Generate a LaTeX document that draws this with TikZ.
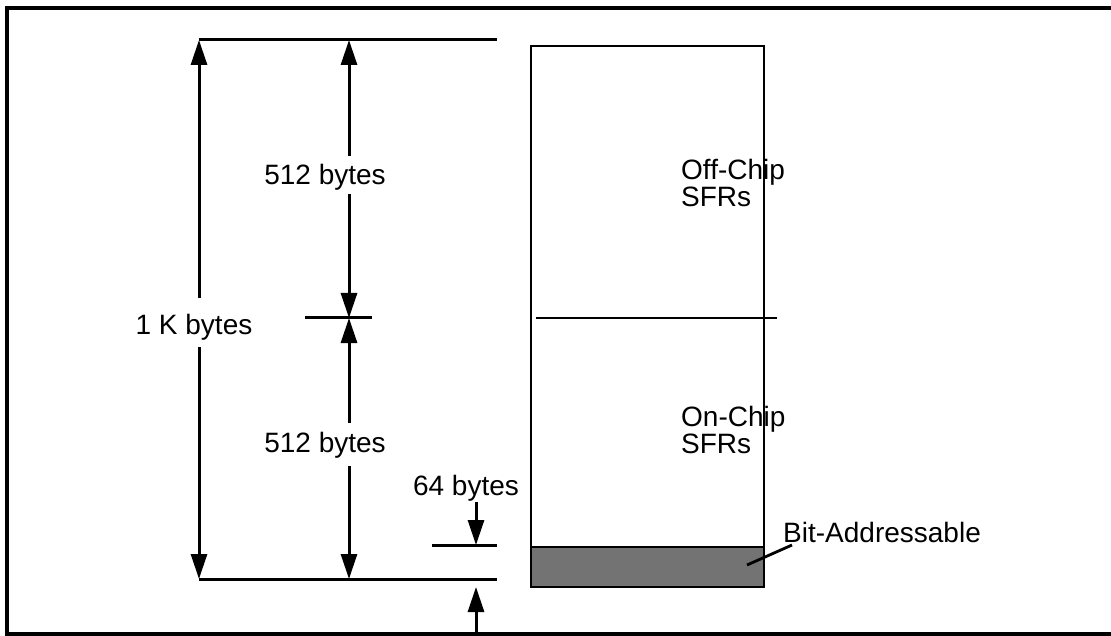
\documentclass[tikz,border=0pt]{standalone}
\usepackage{fontspec}
\setmainfont{Liberation Sans}
\usetikzlibrary{arrows.meta}
\begin{document}
\begin{tikzpicture}[x=1pt,y=-1pt,
  lbl/.style={font=\fontsize{28}{23}\selectfont, inner sep=0pt},
  dim/.style={line width=3pt},
  arr/.style={dim,-{Triangle[length=25pt,width=16pt]}},
  boxline/.style={line width=2.4pt}]
\useasboundingbox (0,0) rectangle (1111,636);
% frame
\draw[line width=3.2pt] (1111,8) -- (7,8) -- (7,634) -- (1111,634);
% reference lines
\coordinate (topL) at (199,40);  \coordinate (topR) at (497,40);
\coordinate (botL) at (199,579); \coordinate (botR) at (497,579);
\coordinate (midA) at (349,40);  \coordinate (midT) at (349,318); \coordinate (midB) at (349,579);
\coordinate (tickL) at (305,318); \coordinate (tickR) at (372,318);
\coordinate (s64L) at (432,545); \coordinate (s64R) at (497,545);
\coordinate (s64T) at (476,545); \coordinate (s64B) at (476,587);
\coordinate (s64F) at (476,634);
\draw[dim] (topL) -- (topR);
\draw[dim] (botL) -- (botR);
\draw[dim] (tickL) -- (tickR);
\draw[dim] (s64L) -- (s64R);
% labels
\node[lbl] (k)  at (194,327) {1 K bytes};
\node[lbl] (ua) at (325,177) {512 bytes};
\node[lbl] (lb) at (325,445) {512 bytes};
\node[lbl] (sf) at (466,488) {64 bytes};
% gap ends
\coordinate (kA) at (199,298); \coordinate (kB) at (199,347);
\coordinate (uA) at (349,156); \coordinate (uB) at (349,194);
\coordinate (lA) at (349,423); \coordinate (lB) at (349,466);
\coordinate (sA) at (476,502);
% arrows
\draw[arr] (kA) -- (topL);
\draw[arr] (kB) -- (botL);
\draw[arr] (uA) -- (midA);
\draw[arr] (uB) -- (midT);
\draw[arr] (lA) -- (midT);
\draw[arr] (lB) -- (midB);
\draw[arr] (sA) -- (s64T);
\draw[arr] (s64F) -- (s64B);
% memory box
\fill[black!55] (531,547) rectangle (764,587);
\node[draw, boxline, minimum width=233pt, minimum height=541pt, inner sep=0pt] (mem) at (647.5,316.5) {};
\draw[boxline] (531,547) -- (764,547);
\coordinate (divL) at (536,318); \coordinate (divR) at (777,318);
\draw[boxline] (divL) -- (divR);
\node[lbl, align=left, anchor=west] (off) at (681,183) {Off-Chip\\SFRs};
\node[lbl, align=left, anchor=west] (on)  at (681,430) {On-Chip\\SFRs};
\node[lbl, anchor=west] (ba) at (783,532) {Bit-Addressable};
\coordinate (baA) at (792,545); \coordinate (baB) at (747,565);
\draw[line width=2.8pt] (baA) -- (baB);
\end{tikzpicture}
\end{document}
